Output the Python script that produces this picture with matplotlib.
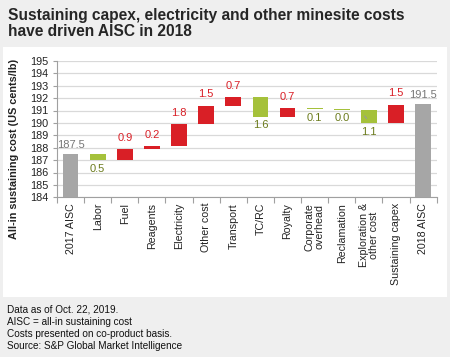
import matplotlib
matplotlib.use("Agg")
import matplotlib.pyplot as plt
from matplotlib.patches import Rectangle
import numpy as np

plt.rcParams['font.family'] = ['Liberation Sans', 'DejaVu Sans']

categories = ["2017 AISC", "Labor", "Fuel", "Reagents", "Electricity", "Other cost",
              "Transport", "TC/RC", "Royalty", "Corporate\noverhead", "Reclamation",
              "Exploration &\nother cost", "Sustaining capex", "2018 AISC"]
start_value = 187.5
end_value = 191.5
changes = [-0.5, 0.9, 0.2, 1.8, 1.5, 0.7, -1.6, 0.7, -0.1, -0.02, -1.1, 1.5]
change_labels = ["0.5", "0.9", "0.2", "1.8", "1.5", "0.7", "1.6", "0.7", "0.1", "0.0", "1.1", "1.5"]
yticks = list(range(184, 196))

RED = "#d91f26"
GREEN = "#a5c13b"
GRAY = "#a6a6a6"
GREEN_TXT = "#6b7b1c"
GRAY_TXT = "#777777"

fig = plt.figure(figsize=(4.5, 3.57), dpi=100)
fig.patch.set_facecolor("#efefef")
panel = Rectangle((3/450, 1-296.7/357), 443.7/450, (296.7-46.5)/357,
                  transform=fig.transFigure, facecolor="white",
                  edgecolor="none", zorder=-5)
fig.patches.append(panel)

ax = fig.add_axes([57/450, 1-197.3/357, 379.7/450, (197.3-60.9)/357])
ax.set_zorder(5)
ax.set_facecolor("white")
ymin = 184
ax.set_ylim(ymin, 195)
ax.set_xlim(-0.5, len(categories)-0.5)

w = 0.58
ax.bar(0, start_value-ymin, bottom=ymin, width=w, color=GRAY, zorder=3)
ax.annotate(f"{start_value:.1f}", (0, start_value), xytext=(0, 3), textcoords="offset points",
            ha="center", va="bottom", fontsize=8, color=GRAY_TXT)
level = start_value
for i, (d, lab) in enumerate(zip(changes, change_labels), start=1):
    lo, hi = min(level, level+d), max(level, level+d)
    col = RED if d > 0 else GREEN
    ax.bar(i, hi-lo, bottom=lo, width=w, color=col, zorder=3)
    if d > 0:
        ax.annotate(lab, (i, hi), xytext=(0, 4.5), textcoords="offset points",
                    ha="center", va="bottom", fontsize=8, color=RED)
    else:
        ax.annotate(lab, (i, lo), xytext=(0, -2.5), textcoords="offset points",
                    ha="center", va="top", fontsize=8, color=GREEN_TXT)
    if lab == "1.1":
        ax.annotate("", xy=(i-0.22, lo+0.75), xytext=(i-0.02, lo+0.2),
                    arrowprops=dict(arrowstyle="-", color="#9a9a9a", lw=0.8), zorder=4)
    level += d
n = len(categories)-1
ax.bar(n, end_value-ymin, bottom=ymin, width=w, color=GRAY, zorder=3)
ax.annotate(f"{end_value:.1f}", (n, end_value), xytext=(0, 3), textcoords="offset points",
            ha="center", va="bottom", fontsize=8, color=GRAY_TXT)

ax.set_yticks(yticks)
ax.set_yticklabels([str(t) for t in yticks], fontsize=7.8, color="#222222")
ax.yaxis.grid(True, color="#d9d9d9", lw=0.9, zorder=0)
ax.set_axisbelow(True)
ax.set_xticks(range(len(categories)))
ax.set_xticklabels(categories, rotation=90, fontsize=7.7, color="#222222",
                   ha="center", va="top", multialignment="center", linespacing=1.05)
ax.set_xticks(np.arange(-0.5, len(categories), 1), minor=True)
ax.tick_params(axis="x", which="major", length=0, pad=4)
ax.tick_params(axis="x", which="minor", length=4, color="#a0a0a0", width=0.8)
ax.tick_params(axis="y", length=3, color="#a0a0a0", width=0.8, pad=3)
for s in ["top", "right"]:
    ax.spines[s].set_visible(False)
for s in ["left", "bottom"]:
    ax.spines[s].set_color("#a0a0a0")
    ax.spines[s].set_linewidth(0.8)

ax.set_ylabel("All-in sustaining cost (US cents/lb)", fontsize=7.8, fontweight="bold",
              color="#222222", labelpad=4)
ax.yaxis.set_label_coords(-38/379.7, 0.354)

fig.text(8/450, 1-8/357, "Sustaining capex, electricity and other minesite costs\nhave driven AISC in 2018",
         ha="left", va="top", fontsize=11.2, fontweight="bold", color="#262626", linespacing=1.12)

fig.text(7/450, 1-305/357,
         "Data as of Oct. 22, 2019.\nAISC = all-in sustaining cost\nCosts presented on co-product basis.\nSource: S&P Global Market Intelligence",
         ha="left", va="top", fontsize=7.2, color="#111111", linespacing=1.25)

fig.savefig("out.png", dpi=100, facecolor=fig.get_facecolor())
